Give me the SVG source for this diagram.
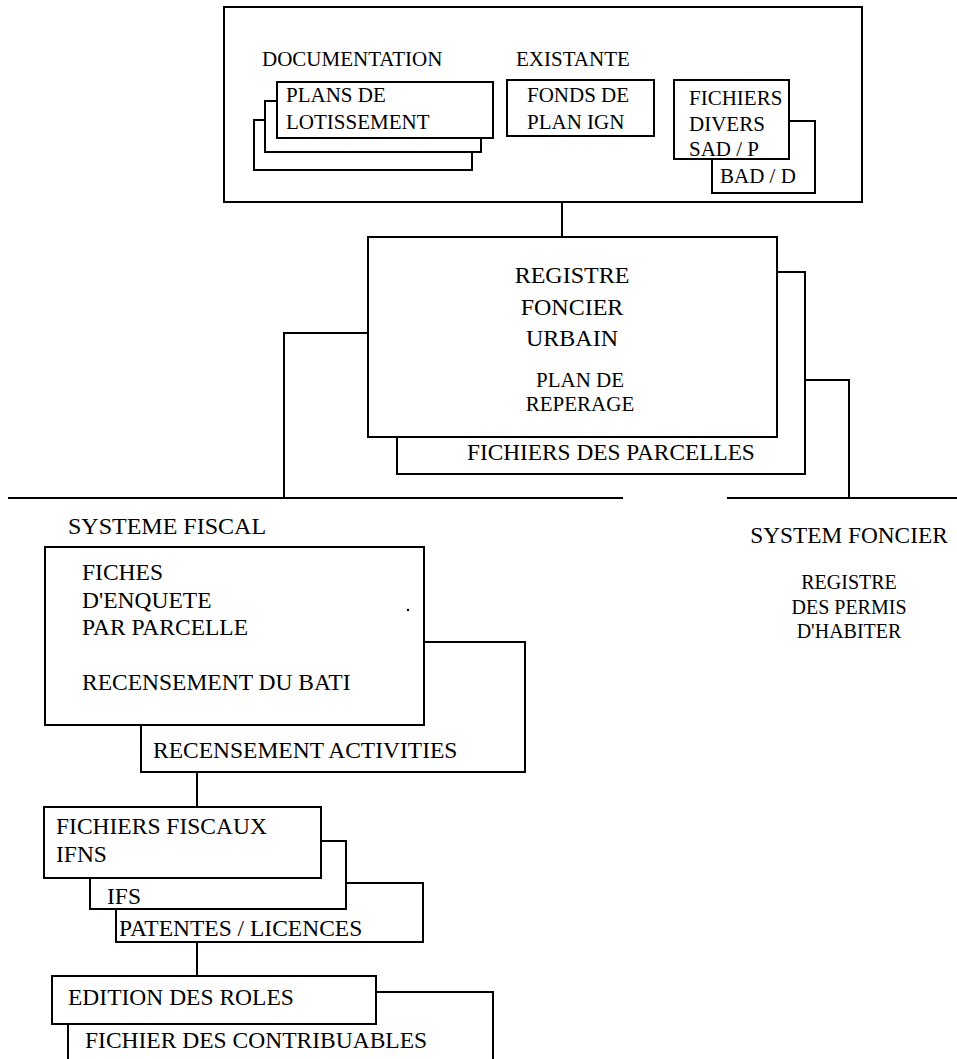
<svg xmlns="http://www.w3.org/2000/svg" width="957" height="1059" viewBox="0 0 957 1059">
<style>
.b{fill:#fff;stroke:#000;stroke-width:2}
.l{fill:none;stroke:#000;stroke-width:2}
text{font-family:"Liberation Serif","Times New Roman",serif;fill:#000}
.t21{font-size:21px}
.t24{font-size:24px}
.t23{font-size:23.5px}
.t20{font-size:20px}
.m{text-anchor:middle}
</style>
<rect width="957" height="1059" fill="#fff"/>
<g id="connectors">
<path class="l" d="M562,202V237"/>
<path class="l" d="M368,333H284V498"/>
<path class="l" d="M8,498H623"/>
<path class="l" d="M805,380H849V498"/>
<path class="l" d="M727,498H957"/>
<path class="l" d="M197,772V807"/>
<path class="l" d="M197,942V976"/>
</g>
<g id="documentation">
<rect class="b" x="224" y="7" width="638" height="195"/>
<text class="t21" x="262" y="66">DOCUMENTATION</text>
<text class="t21" x="516" y="66">EXISTANTE</text>
</g>
<g id="plans-lotissement">
<rect class="b" x="254" y="120" width="218" height="50"/>
<rect class="b" x="265" y="101" width="216" height="51"/>
<rect class="b" x="277" y="82" width="216" height="56"/>
<text class="t21" x="286" y="102">PLANS DE</text>
<text class="t21" x="286" y="129">LOTISSEMENT</text>
</g>
<g id="fonds-plan">
<rect class="b" x="507" y="80" width="147" height="56"/>
<text class="t21" x="527" y="102">FONDS DE</text>
<text class="t21" x="527" y="129">PLAN IGN</text>
</g>
<g id="fichiers-divers">
<rect class="b" x="712" y="121" width="103" height="72"/>
<rect class="b" x="674" y="80" width="115" height="79"/>
<text class="t21" x="689" y="105">FICHIERS</text>
<text class="t21" x="689" y="131">DIVERS</text>
<text class="t21" x="689" y="156">SAD / P</text>
<text class="t21" x="720" y="183">BAD / D</text>
</g>
<g id="registre-foncier">
<rect class="b" x="397" y="272" width="408" height="202"/>
<rect class="b" x="368" y="237" width="409" height="200"/>
<text class="t24 m" x="572" y="283">REGISTRE</text>
<text class="t24 m" x="572" y="315">FONCIER</text>
<text class="t24 m" x="572" y="346">URBAIN</text>
<text class="t21 m" x="580" y="387">PLAN DE</text>
<text class="t21 m" x="580" y="411">REPERAGE</text>
<text x="467" y="460" style="font-size:23.3px">FICHIERS DES PARCELLES</text>
</g>
<g id="systeme-fiscal">
<text class="t24" x="68" y="534">SYSTEME FISCAL</text>
</g>
<g id="fiches-enquete">
<rect class="b" x="141" y="642" width="384" height="130"/>
<rect class="b" x="45" y="547" width="379" height="178"/>
<text class="t23" x="82" y="580">FICHES</text>
<text class="t23" x="82" y="608">D'ENQUETE</text>
<text class="t23" x="82" y="635">PAR PARCELLE</text>
<text class="t23" x="82" y="690">RECENSEMENT DU BATI</text>
<circle cx="408" cy="610" r="1.2" fill="#000"/>
<text class="t23" x="153" y="758">RECENSEMENT ACTIVITIES</text>
</g>
<g id="fichiers-fiscaux">
<rect class="b" x="116" y="883" width="307" height="59"/>
<rect class="b" x="90" y="841" width="256" height="68"/>
<rect class="b" x="44" y="807" width="277" height="71"/>
<text class="t23" x="56" y="834">FICHIERS FISCAUX</text>
<text class="t23" x="56" y="862">IFNS</text>
<text class="t23" x="107" y="904">IFS</text>
<text class="t23" x="119" y="936">PATENTES / LICENCES</text>
</g>
<g id="edition-roles">
<rect class="b" x="68" y="992" width="425" height="80"/>
<rect class="b" x="52" y="976" width="324" height="48"/>
<text class="t23" x="68" y="1005">EDITION DES ROLES</text>
<text class="t23" x="85" y="1048">FICHIER DES CONTRIBUABLES</text>
</g>
<g id="systeme-foncier">
<text class="m" x="849" y="543" style="font-size:23.3px">SYSTEM FONCIER</text>
<text class="t20 m" x="849" y="589">REGISTRE</text>
<text class="t20 m" x="849" y="614">DES PERMIS</text>
<text class="t20 m" x="849" y="638">D'HABITER</text>
</g>
</svg>
